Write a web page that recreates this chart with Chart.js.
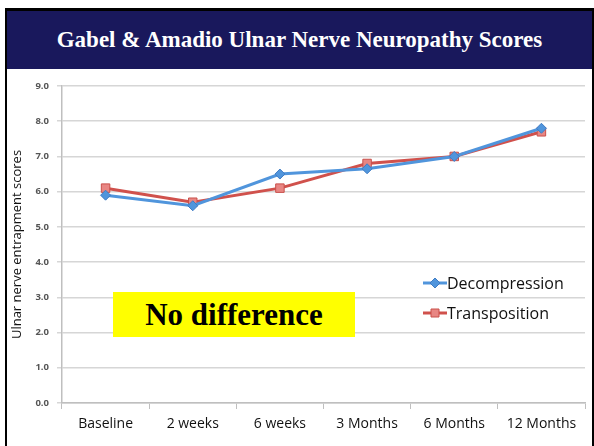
<!DOCTYPE html>
<html>
<head>
<meta charset="utf-8">
<title>Gabel &amp; Amadio Ulnar Nerve Neuropathy Scores</title>
<script src="https://cdn.jsdelivr.net/npm/chart.js@4.4.1/dist/chart.umd.min.js"></script>
<style>
html, body { margin: 0; padding: 0; background: #fff; }
#frame {
    position: absolute; left: 5px; top: 8px; width: 585px; height: 446px;
    border-left: 2px solid #000; border-top: 3px solid #000; border-right: 2px solid #000;
}
#header {
    position: absolute; left: 0; top: 0; width: 585px; height: 58px;
    background: #19185c; color: #fff;
    font: bold 23px "Liberation Serif", "Times New Roman", serif;
    text-align: center; line-height: 58px;
}
#wrap { position: absolute; left: 0; top: 58px; width: 585px; height: 377px; }
#note {
    position: absolute; left: 106px; top: 281px; width: 242px; height: 45px;
    background: #ffff00; color: #000;
    font: bold 31px "Liberation Serif", "Times New Roman", serif;
    text-align: center; line-height: 46px;
}
</style>
</head>
<body>
<div id="frame">
    <div id="header">Gabel &amp; Amadio Ulnar Nerve Neuropathy Scores</div>
    <div id="wrap"><canvas id="chart"></canvas></div>
    <div id="note">No difference</div>
</div>
<script>
const timepoints = ['Baseline', '2 weeks', '6 weeks', '3 Months', '6 Months', '12 Months'];
const decompression = [5.9, 5.6, 6.5, 6.65, 7.0, 7.8];
const transposition = [6.1, 5.7, 6.1, 6.8, 7.0, 7.7];

// legend drawn inside the plot, right side
const sideLegend = {
    id: 'sideLegend',
    afterDraw(chart) {
        const ctx = chart.ctx;
        const items = chart.data.datasets;
        ctx.save();
        items.forEach((ds, i) => {
            const y = 214 + i * 30;
            const x = 416;
            ctx.strokeStyle = ds.borderColor;
            ctx.lineWidth = 3;
            ctx.beginPath();
            ctx.moveTo(x, y);
            ctx.lineTo(x + 24, y);
            ctx.stroke();
            ctx.fillStyle = ds.pointBackgroundColor;
            ctx.strokeStyle = ds.pointBorderColor;
            ctx.lineWidth = 1;
            ctx.beginPath();
            if (ds.pointStyle === 'rect') {
                ctx.rect(x + 8, y - 4, 8, 8);
            } else {
                ctx.moveTo(x + 12, y - 5);
                ctx.lineTo(x + 17, y);
                ctx.lineTo(x + 12, y + 5);
                ctx.lineTo(x + 7, y);
                ctx.closePath();
            }
            ctx.fill();
            ctx.stroke();
            ctx.fillStyle = '#111';
            ctx.font = '16px "Open Sans", sans-serif';
            ctx.textBaseline = 'middle';
            ctx.fillText(ds.label, x + 24, y + 1);
        });
        ctx.restore();
    }
};

new Chart(document.getElementById('chart'), {
    type: 'line',
    data: {
        labels: timepoints,
        datasets: [{
            label: 'Decompression',
            data: decompression,
            borderColor: '#5095dc',
            borderWidth: 3,
            pointStyle: 'rectRot',
            pointRadius: 5,
            pointBackgroundColor: '#5095dc',
            pointBorderColor: '#3f7cc4',
            pointBorderWidth: 1,
            tension: 0
        }, {
            label: 'Transposition',
            data: transposition,
            borderColor: '#d0514c',
            borderWidth: 3,
            pointStyle: 'rect',
            pointRadius: 6,
            pointBackgroundColor: '#e88683',
            pointBorderColor: '#c9504b',
            pointBorderWidth: 1,
            tension: 0
        }]
    },
    options: {
        responsive: true,
        maintainAspectRatio: false,
        animation: false,
        layout: { padding: { top: 17, right: 3, left: 0, bottom: 0 } },
        plugins: {
            legend: { display: false },
            tooltip: { enabled: false }
        },
        scales: {
            x: {
                offset: true,
                grid: { offset: true, drawOnChartArea: false, tickLength: 6, color: '#bfbfbf' },
                border: { color: '#bfbfbf', width: 1.5 },
                ticks: { color: '#111', font: { family: 'Open Sans', size: 14 }, padding: 7, maxRotation: 0 },
                afterFit(s) { s.height = 43; }
            },
            y: {
                min: 0,
                max: 9,
                grid: { color: '#d6d6d6', lineWidth: 1.5, tickLength: 5 },
                border: { color: '#bfbfbf', width: 1.5 },
                ticks: {
                    stepSize: 1,
                    color: '#555',
                    font: { family: 'Open Sans', size: 9.5, weight: 'bold' },
                    padding: 8,
                    callback: v => v.toFixed(1)
                },
                title: {
                    display: true,
                    text: 'Ulnar nerve entrapment scores',
                    color: '#111',
                    font: { family: 'Open Sans', size: 13 },
                    padding: { top: 2, bottom: 4 }
                },
                afterFit(s) { s.width = 55; }
            }
        }
    },
    plugins: [sideLegend]
});
</script>
</body>
</html>
